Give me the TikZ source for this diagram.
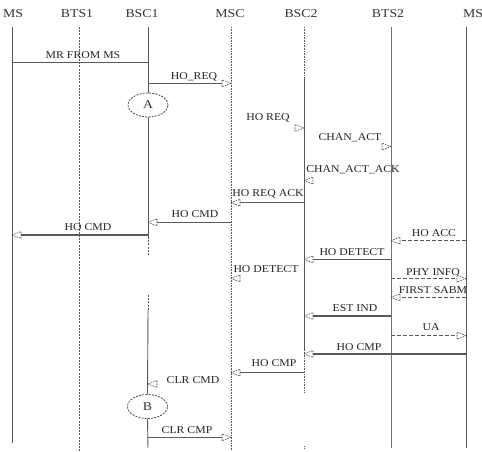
\documentclass[tikz,border=0pt]{standalone}
\usepackage{fontspec}
\setmainfont{Liberation Serif}
\newfontfamily\lblfam[FakeStretch=1.12]{Liberation Serif}
\newfontfamily\hdrfam[FakeStretch=1.15]{Liberation Serif}
\usetikzlibrary{shapes.geometric}
\tikzset{
  hdr/.style={font=\hdrfam\fontsize{12}{14}\selectfont, text=black!80, anchor=base, inner sep=0pt},
  lbl/.style={font=\lblfam\fontsize{10.5}{12}\selectfont, text=black!85, anchor=base, inner sep=0pt},
  solidlife/.style={draw=black!65, line width=0.9pt},
  greylife/.style={draw=black!55, line width=0.9pt},
  dashlife/.style={draw=black!65, line width=0.8pt, dash pattern=on 2pt off 1.2pt},
  dotlife/.style={draw=black!65, line width=0.8pt, dash pattern=on 0.8pt off 0.8pt},
  msg/.style={draw=black!65, line width=1.1pt},
  dmsg/.style={draw=black!65, line width=0.9pt, dash pattern=on 4pt off 2pt},
  hd/.style={draw=black!70, line width=0.6pt, dash pattern=on 1.5pt off 1pt},
  hr/.pic={\draw[hd] (0,0) -- (-9,-3.5) -- (-9,3.5) -- cycle;},
  hl/.pic={\draw[hd] (0,0) -- (9,-3.5) -- (9,3.5) -- cycle;},
  stagebox/.style={ellipse, draw=black!70, line width=0.8pt, dash pattern=on 2pt off 1.2pt,
    minimum width=40pt, minimum height=24pt, inner sep=0pt, fill=white,
    font=\hdrfam\fontsize{12}{14}\selectfont, text=black!80}
}
\begin{document}
\begin{tikzpicture}[x=1pt,y=-1pt]
\useasboundingbox[fill=white] (0,0) rectangle (482,452);
% headers
\node[hdr] (ms)   at (13,17.5)  {MS};
\node[hdr] (bts1) at (77,17.5)  {BTS1};
\node[hdr] (bsc1) at (142,17.5) {BSC1};
\node[hdr] (msc)  at (230,17.5) {MSC};
\node[hdr] (bsc2) at (301,17.5) {BSC2};
\node[hdr] (bts2) at (388,17.5) {BTS2};
\node[hdr] (ms2)  at (473,17.5) {MS};
% stage markers
\node[stagebox] (A) at (148,105) {A};
\node[stagebox] (B) at (147.5,406.5) {B};
% lifelines
\draw[solidlife] (12,27) -- (12,443);
\draw[dashlife] (79,27) -- (79,452);
\draw[solidlife] (148,27) -- (A.north);
\draw[solidlife] (A.south) -- (148,237);
\draw[dashlife] (148,237) -- (148,256);
\draw[dashlife] (148,295) -- (148,310);
\draw[solidlife] (148,310) -- (B.north);
\draw[solidlife] (B.south) -- (148,448);
\draw[dotlife] (231,27) -- (231,450);
\draw[dotlife] (304,27) -- (304,78);
\draw[solidlife] (304,78) -- (304,350);
\draw[dotlife] (304,350) -- (304,392);
\draw[dotlife] (304,446) -- (304,448);
\draw[greylife] (391,27) -- (391,448);
\draw[solidlife] (466,27) -- (466,448);
% 1 MR FROM MS
\coordinate (m1s) at (12,62.5); \coordinate (m1e) at (148,62.5);
\draw[msg] (m1s) -- (m1e);
\node[lbl] at (83,59) {MR FROM MS};
% 2 HO_REQ
\coordinate (m2s) at (148,83.3); \coordinate (m2e) at (231,83.3);
\draw[msg] (m2s) -- ([xshift=-9pt]m2e); \pic at (m2e) {hr};
\node[lbl] at (194,79.5) {HO\_REQ};
% 3 HO REQ (head only)
\coordinate (m3e) at (304,128); \pic at (m3e) {hr};
\node[lbl] at (268,120) {HO REQ};
% 4 CHAN_ACT (head only)
\coordinate (m4e) at (391,146.5); \pic at (m4e) {hr};
\node[lbl] at (350,140.5) {CHAN\_ACT};
% 5 CHAN_ACT_ACK (head only)
\coordinate (m5e) at (304,180.5); \pic at (m5e) {hl};
\node[lbl] at (353,172.5) {CHAN\_ACT\_ACK};
% 6 HO REQ ACK
\coordinate (m6s) at (304,202.7); \coordinate (m6e) at (231,202.7);
\draw[msg] (m6s) -- ([xshift=9pt]m6e); \pic at (m6e) {hl};
\node[lbl] at (268,196.5) {HO REQ ACK};
% 7 HO CMD
\coordinate (m7s) at (231,222.3); \coordinate (m7e) at (148,222.3);
\draw[msg] (m7s) -- ([xshift=9pt]m7e); \pic at (m7e) {hl};
\node[lbl] at (195,217) {HO CMD};
% 8 HO CMD
\coordinate (m8s) at (148,235); \coordinate (m8e) at (12,235);
\draw[msg] (m8s) -- ([xshift=9pt]m8e); \pic at (m8e) {hl};
\node[lbl] at (88,230) {HO CMD};
% 9 HO ACC
\coordinate (m9s) at (466,240.7); \coordinate (m9e) at (391,240.7);
\draw[dmsg] (m9s) -- ([xshift=9pt]m9e); \pic at (m9e) {hl};
\node[lbl] at (434,236.5) {HO ACC};
% 10 HO DETECT
\coordinate (m10s) at (391,259.3); \coordinate (m10e) at (304,259.3);
\draw[msg] (m10s) -- ([xshift=9pt]m10e); \pic at (m10e) {hl};
\node[lbl] at (352,255.3) {HO DETECT};
% 11 HO DETECT (head only)
\coordinate (m11e) at (231,278.3); \pic at (m11e) {hl};
\node[lbl] at (266,272.7) {HO DETECT};
% 12 PHY INFO
\coordinate (m12s) at (391,278.7); \coordinate (m12e) at (466,278.7);
\draw[dmsg] (m12s) -- ([xshift=-9pt]m12e); \pic at (m12e) {hr};
\node[lbl] at (433,275) {PHY INFO};
% 13 FIRST SABM
\coordinate (m13s) at (466,297.3); \coordinate (m13e) at (391,297.3);
\draw[dmsg] (m13s) -- ([xshift=9pt]m13e); \pic at (m13e) {hl};
\node[lbl] at (433,293.3) {FIRST SABM};
% 14 EST IND
\coordinate (m14s) at (391,316); \coordinate (m14e) at (304,316);
\draw[msg] (m14s) -- ([xshift=9pt]m14e); \pic at (m14e) {hl};
\node[lbl] at (355,311.7) {EST IND};
% 15 UA
\coordinate (m15s) at (391,335.7); \coordinate (m15e) at (466,335.7);
\draw[dmsg] (m15s) -- ([xshift=-9pt]m15e); \pic at (m15e) {hr};
\node[lbl] at (431,330.5) {UA};
% 16 HO CMP
\coordinate (m16s) at (466,354); \coordinate (m16e) at (304,354);
\draw[msg] (m16s) -- ([xshift=9pt]m16e); \pic at (m16e) {hl};
\node[lbl] at (359,350.5) {HO CMP};
% 17 HO CMP
\coordinate (m17s) at (304,372.7); \coordinate (m17e) at (231,372.7);
\draw[msg] (m17s) -- ([xshift=9pt]m17e); \pic at (m17e) {hl};
\node[lbl] at (274,366.5) {HO CMP};
% 18 CLR CMD (head only)
\coordinate (m18e) at (148,384); \pic at (m18e) {hl};
\node[lbl] at (193,383.3) {CLR CMD};
% 19 CLR CMP
\coordinate (m19s) at (148,437.3); \coordinate (m19e) at (231,437.3);
\draw[msg] (m19s) -- ([xshift=-9pt]m19e); \pic at (m19e) {hr};
\node[lbl] at (187,433) {CLR CMP};
\end{tikzpicture}
\end{document}
